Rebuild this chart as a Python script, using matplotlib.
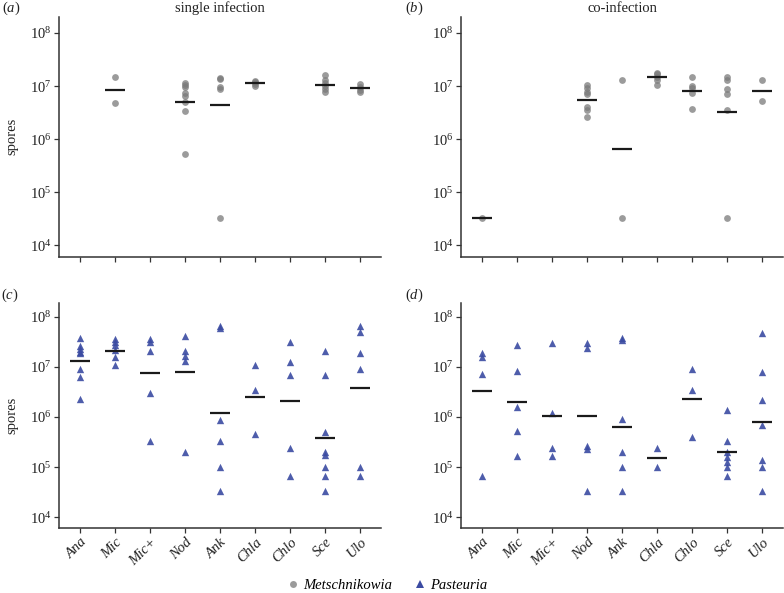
import numpy as np
import matplotlib
matplotlib.use("Agg")
import matplotlib.pyplot as plt
from matplotlib.lines import Line2D
from matplotlib.ticker import LogFormatterMathtext, FixedLocator

plt.rcParams['font.family'] = 'Liberation Serif'
plt.rcParams['mathtext.fontset'] = 'custom'
plt.rcParams['mathtext.rm'] = 'Liberation Serif'
plt.rcParams['mathtext.it'] = 'Liberation Serif:italic'

cats = ['Ana', 'Mic', 'Mic+', 'Nod', 'Ank', 'Chla', 'Chlo', 'Sce', 'Ulo']

# log10(spores), one list per host
# (a) single infection, Metschnikowia
met_single = [[], [7.163, 6.680], [],
              [7.050, 7.025, 6.987, 6.875, 6.818, 6.705, 6.536, 5.720],
              [7.150, 7.125, 6.975, 6.940, 4.510],
              [7.100, 7.070, 7.040, 7.010], [],
              [7.213, 7.110, 7.050, 7.000, 6.940, 6.890],
              [7.030, 6.975, 6.925, 6.880]]
met_single_mean = [np.nan, 6.925, np.nan, 6.693, 6.642, 7.050, np.nan, 7.013, 6.956]

# (b) co-infection, Metschnikowia
met_co = [[4.516], [], [],
          [7.019, 6.956, 6.893, 6.850, 6.610, 6.550, 6.420],
          [7.107, 4.516],
          [7.250, 7.220, 7.170, 7.120, 7.020],
          [7.176, 7.000, 6.970, 6.875, 6.560],
          [7.163, 7.113, 6.937, 6.843, 6.548, 4.516],
          [7.113, 6.710]]
met_co_mean = [4.516, np.nan, np.nan, 6.737, 5.808, 7.163, 6.912, 6.510, 6.912]

# (c) single infection, Pasteuria
pas_single = [[7.566, 7.413, 7.347, 7.300, 7.267, 6.948, 6.800, 6.362],
              [7.546, 7.500, 7.430, 7.330, 7.187, 7.040],
              [7.546, 7.493, 7.313, 6.482, 5.525],
              [7.618, 7.313, 7.213, 7.120, 5.305],
              [7.811, 7.770, 5.937, 5.525, 5.006, 4.527],
              [7.034, 6.535, 5.671],
              [7.486, 7.100, 6.834, 5.373, 4.827],
              [7.319, 6.834, 5.704, 5.305, 5.239, 5.006, 4.827, 4.527],
              [7.811, 7.698, 7.280, 6.967, 5.006, 4.827]]
pas_single_mean = [7.107, 7.319, 6.868, 6.900, 6.083, 6.396, 6.310, 5.584, 6.582]

# (d) co-infection, Pasteuria
pas_co = [[7.267, 7.200, 6.854, 4.827],
          [7.433, 6.920, 6.190, 5.724, 5.219],
          [7.479, 6.070, 5.373, 5.219],
          [7.466, 7.379, 5.419, 5.353, 4.527],
          [7.578, 7.532, 5.970, 5.305, 5.006, 4.527],
          [5.373, 5.006],
          [6.967, 6.535, 5.604],
          [6.137, 5.525, 5.305, 5.205, 5.106, 5.006, 4.827],
          [7.666, 6.888, 6.336, 5.837, 5.140, 5.006, 4.527]]
pas_co_mean = [6.522, 6.290, 6.017, 6.017, 5.804, 5.173, 6.356, 5.305, 5.891]

grey = '#7a7a7a'
blue = '#3b4ba2'
W, H = 784, 593

fig = plt.figure(figsize=(W / 100, H / 100), dpi=100)


def add_ax(x0, x1, y0, y1):
    return fig.add_axes([x0 / W, 1 - y1 / H, (x1 - x0) / W, (y1 - y0) / H])


ax_a = add_ax(59, 381, 17, 256.7)
ax_b = add_ax(461, 783, 17, 256.7)
ax_c = add_ax(59, 381, 302.7, 528)
ax_d = add_ax(461, 783, 302.7, 528)

panels = [
    (ax_a, met_single, met_single_mean, 'o', grey, (3.785, 8.301)),
    (ax_b, met_co, met_co_mean, 'o', grey, (3.785, 8.301)),
    (ax_c, pas_single, pas_single_mean, '^', blue, (3.787, 8.279)),
    (ax_d, pas_co, pas_co_mean, '^', blue, (3.787, 8.279)),
]

for ax, data, means, mk, col, lims in panels:
    for i, vals in enumerate(data):
        if len(vals) == 0:
            continue
        v = np.power(10.0, np.array(vals))
        ax.scatter(np.full(len(v), i), v, marker=mk, s=24 if mk == 'o' else 28,
                   color=col, alpha=0.75 if mk == 'o' else 0.9,
                   linewidths=0, zorder=2)
    for i, m in enumerate(means):
        if np.isnan(m):
            continue
        ax.hlines(10 ** m, i - 0.29, i + 0.29, color='#1a1a1a', lw=1.6, zorder=3)
    ax.set_yscale('log')
    ax.set_ylim(10 ** lims[0], 10 ** lims[1])
    ax.set_xlim(-0.6, len(cats) - 0.4)
    ax.yaxis.set_major_locator(FixedLocator([1e4, 1e5, 1e6, 1e7, 1e8]))
    ax.yaxis.set_major_formatter(LogFormatterMathtext())
    ax.yaxis.set_minor_locator(FixedLocator([]))
    ax.set_xticks(range(len(cats)))
    for s in ['top', 'right']:
        ax.spines[s].set_visible(False)
    for s in ['left', 'bottom']:
        ax.spines[s].set_color('#333333')
        ax.spines[s].set_linewidth(1.1)
    ax.tick_params(axis='both', direction='out', length=3.5, width=0.9,
                   color='#333333', labelsize=10.5, labelcolor='#222222', pad=2)

for ax in (ax_a, ax_b):
    ax.set_xticklabels([])
for ax in (ax_c, ax_d):
    ax.set_xticklabels(cats, rotation=45, ha='right', rotation_mode='anchor',
                       style='italic', fontsize=10.5)

for ax in (ax_a, ax_c):
    ax.set_ylabel('spores', fontsize=10.5, color='#222222')
    ax.yaxis.set_label_coords(-0.125, 0.5)

ax_a.text(0.5, 1 + 9 / 239.7, 'single infection', transform=ax_a.transAxes,
          ha='center', va='center', fontsize=10.5, color='#222222')
ax_b.text(0.5, 1 + 9 / 239.7, 'co-infection', transform=ax_b.transAxes,
          ha='center', va='center', fontsize=10.5, color='#222222')

for lab, x, y in [('a', 11, 8), ('b', 414, 8), ('c', 10, 295), ('d', 414, 295)]:
    fig.text(x / W, 1 - y / H, r'$(\mathit{%s})$' % lab, ha='center', va='center',
             fontsize=10.5, color='#222222')

handles = [Line2D([], [], marker='o', ls='', color=grey, alpha=0.75, markersize=5,
                  markeredgewidth=0, label='Metschnikowia'),
           Line2D([], [], marker='^', ls='', color=blue, markersize=5.5,
                  markeredgewidth=0, label='Pasteuria')]
fig.legend(handles=handles, loc='center', bbox_to_anchor=(388 / W, 8 / H), ncol=2,
           frameon=False, handlelength=0.6, handletextpad=0.4, columnspacing=1.6,
           prop={'family': 'Liberation Serif', 'style': 'italic', 'size': 10.5})

fig.savefig('out.png', dpi=100)
